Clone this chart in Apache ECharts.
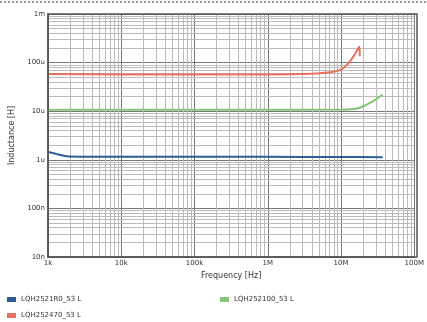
<!DOCTYPE html>
<html><head><meta charset="utf-8">
<script src="https://cdn.jsdelivr.net/npm/echarts@6/dist/echarts.min.js"></script>
<style>html,body{margin:0;padding:0;background:#fff}#c{width:427px;height:322px}</style>
</head><body><div id="c"></div>
<script>
const xTicks = [1e3,1e4,1e5,1e6,1e7,1e8];
const xTickLabels = {1e3:'1k',1e4:'10k',1e5:'100k',1e6:'1M',1e7:'10M',1e8:'100M'};
const yTickLabels = {1e-8:'10n',1e-7:'100n',1e-6:'1u',1e-5:'10u',1e-4:'100u',1e-3:'1m'};
const seriesNames = ['LQH2521R0_53 L','LQH252470_53 L','LQH252100_53 L'];
const blueFreq = [1e3,1.3e3,1.8e3,3e3,1e4,1e5,1e6,1e7,3.7e7];
const blueL = [1.45e-6,1.32e-6,1.18e-6,1.16e-6,1.15e-6,1.15e-6,1.15e-6,1.14e-6,1.13e-6];
const redFreq = [1e3,1e4,1e5,1e6,4e6,7e6,1e7,1.25e7,1.5e7,1.7e7,1.78e7,1.8e7];
const redL = [5.8e-5,5.7e-5,5.7e-5,5.7e-5,5.9e-5,6.3e-5,7.2e-5,9.5e-5,1.4e-4,1.9e-4,2.15e-4,1.35e-4];
const greenFreq = [1e3,1e4,1e5,1e6,1e7,1.6e7,2.2e7,3e7,3.7e7];
const greenL = [1.07e-5,1.07e-5,1.07e-5,1.07e-5,1.08e-5,1.12e-5,1.35e-5,1.75e-5,2.2e-5];
const colors = ['#2e5c96','#e8705c','#86c47a'];

const minorX = [], minorY = [];
for (let e=3; e<8; e++) for (let k=2;k<=9;k++) minorX.push(k*Math.pow(10,e));
for (let e=-8; e<-3; e++) for (let k=2;k<=9;k++) minorY.push(k*Math.pow(10,e));

function pairs(f,v){return f.map((x,i)=>[x,v[i]]);}
function fmt(map){return v=>{for(const k in map){if(Math.abs(Math.log10(v)-Math.log10(+k))<0.01)return map[k];}return '';};}

const gridLines = minorX.map(v=>[{coord:[v,1e-8]},{coord:[v,1e-3]}])
  .concat(minorY.map(v=>[{coord:[1e3,v]},{coord:[1e8,v]}]));

const chart = echarts.init(document.getElementById('c'));
chart.setOption({
  animation:false,
  textStyle:{fontFamily:'DejaVu Sans'},
  grid:{left:48,right:10,top:14,bottom:65},
  xAxis:{type:'log',min:1e3,max:1e8,logBase:10,
    name:'Frequency [Hz]',nameLocation:'middle',nameGap:13,nameTextStyle:{fontSize:8,color:'#333'},
    axisLine:{lineStyle:{color:'#555',width:1.5}},axisTick:{show:false},
    axisLabel:{fontSize:7,color:'#333',margin:3,formatter:fmt(xTickLabels)},
    splitLine:{show:true,lineStyle:{color:'#777',width:1}}},
  yAxis:{type:'log',min:1e-8,max:1e-3,logBase:10,
    name:'Inductance [H]',nameLocation:'middle',nameGap:32,nameRotate:90,nameTextStyle:{fontSize:8,color:'#333'},
    axisLine:{lineStyle:{color:'#555',width:1.5}},axisTick:{show:false},
    axisLabel:{fontSize:7,color:'#333',margin:3,formatter:fmt(yTickLabels)},
    splitLine:{show:true,lineStyle:{color:'#777',width:1}}},
  legend:[
    {data:[seriesNames[0]],left:2,top:291,itemWidth:9,itemHeight:5,icon:'rect',textStyle:{fontSize:7,color:'#333'},itemGap:2},
    {data:[seriesNames[1]],left:2,top:307,itemWidth:9,itemHeight:5,icon:'rect',textStyle:{fontSize:7,color:'#333'},itemGap:2},
    {data:[seriesNames[2]],left:215,top:291,itemWidth:9,itemHeight:5,icon:'rect',textStyle:{fontSize:7,color:'#333'},itemGap:2}
  ],
  graphic:[
    {type:'line',shape:{x1:0,y1:2,x2:427,y2:2},style:{stroke:'#333',lineWidth:1,lineDash:[2,2]}},
    {type:'rect',shape:{x:48,y:14,width:369,height:243},style:{fill:'none',stroke:'#555',lineWidth:1.5},z:10}
  ],
  series:[
    {type:'line',name:'_grid',data:[[1e3,1e-8]],showSymbol:false,lineStyle:{opacity:0},z:0,silent:true,
     markLine:{silent:true,symbol:'none',label:{show:false},animation:false,z:0,
       lineStyle:{color:'#bbb',width:1,type:'solid'},
       data:gridLines}},
    {type:'line',name:seriesNames[0],data:pairs(blueFreq,blueL),showSymbol:false,smooth:0.3,lineStyle:{width:2,color:colors[0]},itemStyle:{color:colors[0]},z:8},
    {type:'line',name:seriesNames[1],data:pairs(redFreq,redL),showSymbol:false,smooth:0.3,lineStyle:{width:2,color:colors[1]},itemStyle:{color:colors[1]},z:8},
    {type:'line',name:seriesNames[2],data:pairs(greenFreq,greenL),showSymbol:false,smooth:0.3,lineStyle:{width:2,color:colors[2]},itemStyle:{color:colors[2]},z:8}
  ]
});
</script></body></html>
